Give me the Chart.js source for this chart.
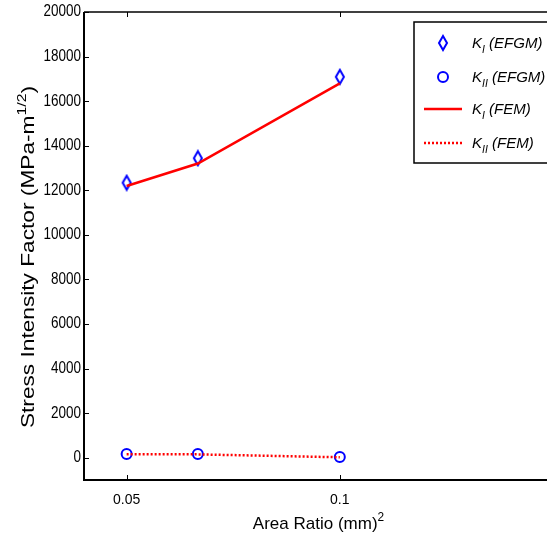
<!DOCTYPE html>
<html>
<head>
<meta charset="utf-8">
<script src="https://cdn.jsdelivr.net/npm/chart.js@4/dist/chart.umd.min.js"></script>
<style>
  html, body { margin: 0; padding: 0; background: #fff; overflow: hidden; }
  #wrap { width: 560px; height: 543px; }
</style>
</head>
<body>
<div id="wrap"><canvas id="sif" width="560" height="543"></canvas></div>
<script>
// Area ratios (mm^2) and stress intensity factors (MPa-m^1/2)
const areaRatio = [0.05, 0.0667, 0.1];
const kIEfgm = [12340, 13440, 17090];
const kIIEfgm = [170, 170, 30];
const kIFem = [12190, 13200, 16800];
const kIIFem = [150, 150, 20];

const xTicks = [0.05, 0.1];
const yTicks = [0, 2000, 4000, 6000, 8000, 10000, 12000, 14000, 16000, 18000, 20000];

const BLUE = "#0000ff";
const RED = "#ff0000";
const FONT = "'Liberation Sans', Arial, Helvetica, sans-serif";

const pts = (ys) => areaRatio.map((x, i) => ({ x: x, y: ys[i] }));

// tall diamond marker, MATLAB style
function makeDiamond() {
  const c = document.createElement("canvas");
  c.width = 12;
  c.height = 18;
  const g = c.getContext("2d");
  g.strokeStyle = BLUE;
  g.lineWidth = 2;
  g.beginPath();
  g.moveTo(6, 2);
  g.lineTo(10, 9);
  g.lineTo(6, 16);
  g.lineTo(2, 9);
  g.closePath();
  g.stroke();
  return c;
}
const diamond = makeDiamond();

function drawCircle(ctx, x, y) {
  ctx.save();
  ctx.strokeStyle = BLUE;
  ctx.lineWidth = 2;
  ctx.beginPath();
  ctx.arc(x, y, 5, 0, Math.PI * 2);
  ctx.stroke();
  ctx.restore();
}

// text with a sub/superscript run: parts = [[text, shift]] shift<0 up, >0 down
function drawRuns(ctx, parts, x, y, size, style) {
  let cx = x;
  parts.forEach(([txt, shift]) => {
    const s = shift ? size * 0.7 : size;
    ctx.font = style + " " + s + "px " + FONT;
    ctx.fillText(txt, cx, y + (shift || 0) * size);
    cx += ctx.measureText(txt).width;
  });
  return cx - x;
}
function runsWidth(ctx, parts, size, style) {
  let w = 0;
  parts.forEach(([txt, shift]) => {
    const s = shift ? size * 0.7 : size;
    ctx.font = style + " " + s + "px " + FONT;
    w += ctx.measureText(txt).width;
  });
  return w;
}

const decorations = {
  id: "decorations",
  afterDatasetsDraw(chart) {
    const { ctx, chartArea: a, scales } = chart;
    ctx.save();
    ctx.strokeStyle = "#000";
    // axes box
    ctx.lineWidth = 2;
    ctx.beginPath();
    ctx.moveTo(a.left, a.top);
    ctx.lineTo(a.left, a.bottom);
    ctx.lineTo(a.right, a.bottom);
    ctx.lineTo(a.right, a.top);
    ctx.stroke();
    ctx.lineWidth = 1.5;
    ctx.beginPath();
    ctx.moveTo(a.left, a.top);
    ctx.lineTo(a.right, a.top);
    ctx.stroke();
    // inward ticks
    ctx.lineWidth = 1;
    ctx.beginPath();
    yTicks.forEach((v) => {
      const py = Math.round(scales.y.getPixelForValue(v)) + 0.5;
      ctx.moveTo(a.left, py);
      ctx.lineTo(a.left + 5, py);
      ctx.moveTo(a.right, py);
      ctx.lineTo(a.right - 5, py);
    });
    xTicks.forEach((v) => {
      const px = Math.round(scales.x.getPixelForValue(v)) + 0.5;
      ctx.moveTo(px, a.bottom);
      ctx.lineTo(px, a.bottom - 5);
      ctx.moveTo(px, a.top);
      ctx.lineTo(px, a.top + 5);
    });
    ctx.stroke();

    // y tick labels, a little taller than wide
    ctx.fillStyle = "#000";
    ctx.font = "13.5px " + FONT;
    ctx.textAlign = "right";
    ctx.textBaseline = "middle";
    yTicks.forEach((v) => {
      const py = scales.y.getPixelForValue(v);
      ctx.save();
      ctx.translate(a.left - 3, py);
      ctx.scale(1, 1.2);
      ctx.fillText(String(v), 0, 0);
      ctx.restore();
    });
    ctx.restore();
  },
  afterDraw(chart) {
    const { ctx, chartArea: a } = chart;
    ctx.save();
    ctx.fillStyle = "#000";
    ctx.textBaseline = "alphabetic";
    ctx.textAlign = "left";

    // x title
    const xParts = [["Area Ratio (mm)", 0], ["2", -0.45]];
    const xw = runsWidth(ctx, xParts, 17, "normal");
    drawRuns(ctx, xParts, (a.left + a.right) / 2 - xw / 2, 529, 17, "normal");

    // y title, rotated and stretched along its length
    const yParts = [["Stress Intensity Factor (MPa-m", 0], ["1/2", -0.45], [")", 0]];
    const yw = runsWidth(ctx, yParts, 18, "normal");
    ctx.save();
    ctx.translate(34, 257);
    ctx.rotate(-Math.PI / 2);
    ctx.scale(1.26, 1);
    drawRuns(ctx, yParts, -yw / 2, 0, 18, "normal");
    ctx.restore();

    // legend
    const lx = 414, ly = 22, lw = 150, lh = 141;
    ctx.fillStyle = "#fff";
    ctx.fillRect(lx, ly, lw, lh);
    ctx.strokeStyle = "#000";
    ctx.lineWidth = 1.5;
    ctx.strokeRect(lx, ly, lw, lh);

    const rows = [
      { y: 43, sub: "I", tag: " (EFGM)", mark: "diamond" },
      { y: 77, sub: "II", tag: " (EFGM)", mark: "circle" },
      { y: 109, sub: "I", tag: " (FEM)", mark: "solid" },
      { y: 143, sub: "II", tag: " (FEM)", mark: "dotted" }
    ];
    rows.forEach((r) => {
      if (r.mark === "diamond") {
        ctx.drawImage(diamond, 443 - 6, r.y - 9);
      } else if (r.mark === "circle") {
        drawCircle(ctx, 443, r.y);
      } else {
        ctx.save();
        ctx.strokeStyle = RED;
        ctx.lineWidth = 2.5;
        if (r.mark === "dotted") ctx.setLineDash([2, 2]);
        ctx.beginPath();
        ctx.moveTo(424, r.y);
        ctx.lineTo(462, r.y);
        ctx.stroke();
        ctx.restore();
      }
      ctx.fillStyle = "#000";
      drawRuns(ctx, [["K", 0], [r.sub, 0.35], [r.tag, 0]], 472, r.y + 5, 15, "italic");
    });
    ctx.restore();
  }
};

new Chart(document.getElementById("sif"), {
  type: "line",
  data: {
    datasets: [
      {
        label: "KI (FEM)",
        data: pts(kIFem),
        borderColor: RED,
        borderWidth: 2.5,
        pointRadius: 0,
        order: 0
      },
      {
        label: "KII (FEM)",
        data: pts(kIIFem),
        borderColor: RED,
        borderWidth: 2.5,
        borderDash: [2, 2],
        pointRadius: 0,
        order: 0
      },
      {
        label: "KI (EFGM)",
        data: pts(kIEfgm),
        showLine: false,
        pointStyle: diamond,
        order: 1
      },
      {
        label: "KII (EFGM)",
        data: pts(kIIEfgm),
        showLine: false,
        pointStyle: "circle",
        pointRadius: 5,
        pointBorderWidth: 2,
        pointBorderColor: BLUE,
        pointBackgroundColor: "rgba(0,0,0,0)",
        order: 1
      }
    ]
  },
  options: {
    responsive: false,
    animation: false,
    events: [],
    layout: { padding: { top: 12, right: 7, left: 0, bottom: 0 } },
    plugins: { legend: { display: false }, tooltip: { enabled: false } },
    scales: {
      x: {
        type: "linear",
        min: 0.04,
        max: 0.15,
        grid: { display: false, drawTicks: false },
        border: { display: false },
        afterBuildTicks: (s) => { s.ticks = xTicks.map((v) => ({ value: v })); },
        afterFit: (s) => { s.height = 63; },
        ticks: {
          padding: 12,
          color: "#000",
          font: { family: FONT, size: 14 },
          maxRotation: 0,
          callback: (v) => String(v)
        }
      },
      y: {
        type: "linear",
        min: -1000,
        max: 20000,
        grid: { display: false, drawTicks: false },
        border: { display: false },
        afterBuildTicks: (s) => { s.ticks = yTicks.map((v) => ({ value: v })); },
        afterFit: (s) => { s.width = 84; },
        ticks: { display: false }
      }
    }
  },
  plugins: [decorations]
});
</script>
</body>
</html>
